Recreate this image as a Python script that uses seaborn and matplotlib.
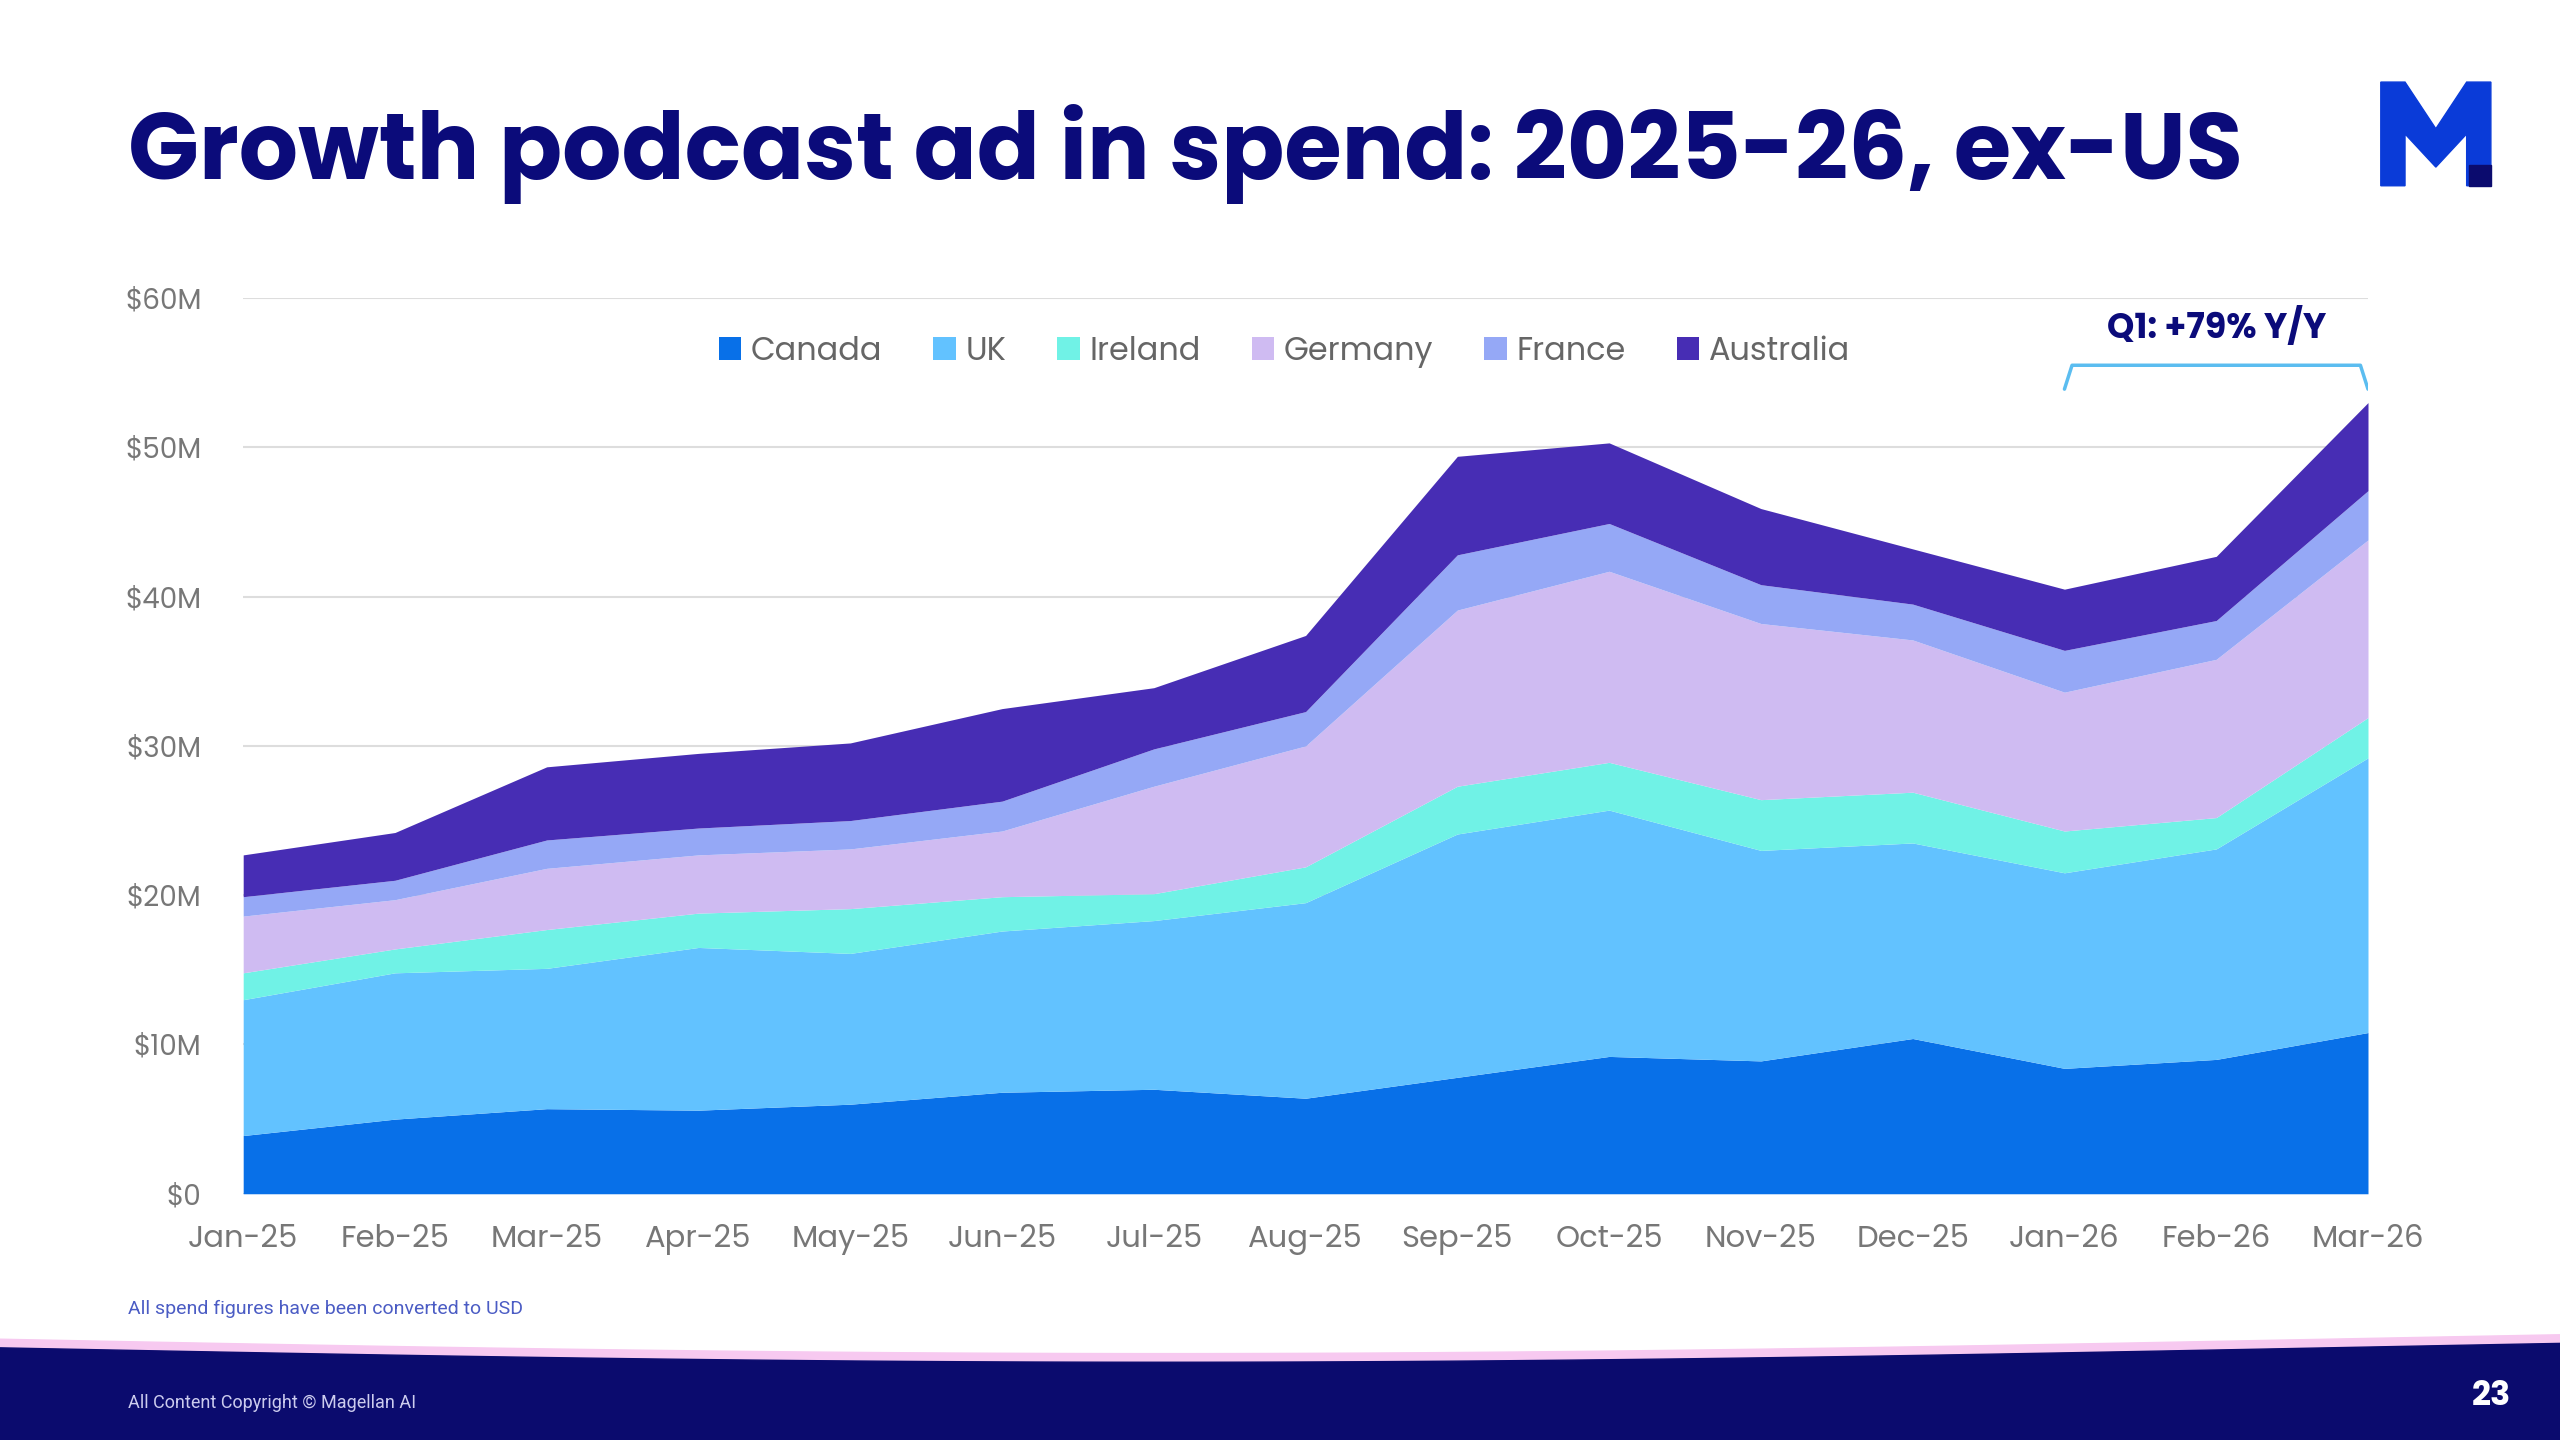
import numpy as np
import matplotlib
matplotlib.use("Agg")
import matplotlib.pyplot as plt
import seaborn as sns
from matplotlib.patches import Polygon, Rectangle

months = ["Jan-25","Feb-25","Mar-25","Apr-25","May-25","Jun-25","Jul-25","Aug-25",
          "Sep-25","Oct-25","Nov-25","Dec-25","Jan-26","Feb-26","Mar-26"]
canada = [3.9,5.0,5.7,5.6,6.0,6.8,7.0,6.4,7.8,9.2,8.9,10.4,8.4,9.0,10.8]
uk = [9.1,9.8,9.4,10.9,10.1,10.8,11.3,13.1,16.3,16.5,14.1,13.1,13.1,14.1,18.4]
ireland = [1.8,1.6,2.6,2.3,3.0,2.3,1.8,2.4,3.2,3.2,3.4,3.4,2.8,2.1,2.7]
germany = [3.8,3.3,4.1,3.9,4.0,4.4,7.2,8.1,11.8,12.8,11.8,10.2,9.3,10.6,11.9]
france = [1.3,1.3,1.9,1.8,1.9,2.0,2.5,2.3,3.7,3.2,2.6,2.4,2.8,2.6,3.3]
australia = [2.8,3.2,4.9,5.0,5.2,6.2,4.1,5.1,6.6,5.4,5.1,3.7,4.1,4.3,5.9]
series_names = ["Canada","UK","Ireland","Germany","France","Australia"]
colors = ["#0870E8","#62C2FF","#70F2E6","#CFBBF2","#95A8F6","#472DB4"]
yticks = [0,10,20,30,40,50,60]
ytick_labels = ["$0","$10M","$20M","$30M","$40M","$50M","$60M"]

sns.set_theme(style="white")
plt.rcParams['font.family'] = ['Poppins', 'Lato', 'DejaVu Sans']

fig = plt.figure(figsize=(25.6,14.4), dpi=100)
ax = fig.add_axes([0.095,0.171,0.83,0.622])
x = np.arange(len(months))
ax.stackplot(x, canada, uk, ireland, germany, france, australia,
             colors=colors, labels=series_names, linewidth=0)
ax.set_xlim(0, len(months)-1)
ax.set_ylim(0, 60)
ax.set_yticks(yticks)
ax.set_yticklabels(ytick_labels)
ax.set_xticks(x)
ax.set_xticklabels(months)
ax.tick_params(axis='x', labelsize=22, colors="#777777", length=0, pad=22)
ax.tick_params(axis='y', labelsize=20, colors="#777777", length=0, pad=30)
ax.yaxis.grid(True, color="#DDDDDD", linewidth=1.5)
ax.set_axisbelow(True)
for s in ax.spines.values():
    s.set_visible(False)
leg = ax.legend(loc='upper center', bbox_to_anchor=(0.49, 0.99), ncol=6, frameon=False,
                fontsize=23, handlelength=0.7, handleheight=0.7, handletextpad=0.3,
                columnspacing=1.6, labelcolor="#666666")

# Q1 bracket
yb = 55.5
ax.plot([12, 12.05, 13.95, 14], [yb-1.6, yb, yb, yb-1.6], color="#5BBDF0", lw=2.5,
        solid_capstyle='round')
ax.text(13, yb+1.2, "Q1: +79% Y/Y", ha='center', va='bottom', fontsize=25,
        fontweight='bold', color="#0B0B7A")

fig.text(0.05, 0.893, "Growth podcast ad in spend: 2025-26, ex-US", fontsize=67,
         fontweight='bold', color="#0B0B7A", va='center', ha='left')
fig.text(0.05, 0.091, "All spend figures have been converted to USD", fontsize=14,
         color="#4B5CC4", va='center', family=['Roboto', 'DejaVu Sans'])

# footer banner
fx = np.linspace(0, 1, 200)
top = 0.064 - 0.01*np.sin(np.pi*fx*1.1)
pink = np.column_stack([np.r_[fx, fx[::-1]], np.r_[top+0.006, top[::-1]-0.004]])
fig.patches.append(Polygon(pink, closed=True, transform=fig.transFigure, color="#F7C9F0", zorder=0))
navy = np.column_stack([np.r_[fx, 1, 0], np.r_[top, 0, 0]])
fig.patches.append(Polygon(navy, closed=True, transform=fig.transFigure, color="#0B0B6E", zorder=1))
fig.text(0.05, 0.026, "All Content Copyright © Magellan AI", fontsize=13, color="#CCCCEE",
         va='center', family=['Roboto', 'DejaVu Sans'])
fig.text(0.981, 0.03, "23", fontsize=24, color="white", fontweight='bold', va='center', ha='right')

# logo M
lx0, ly0, w, h = 0.930, 0.871, 0.043, 0.072
pts = [(0,0),(0,1),(0.22,1),(0.5,0.55),(0.78,1),(1,1),(1,0),(0.78,0),(0.78,0.5),(0.5,0.18),(0.22,0.5),(0.22,0)]
fig.patches.append(Polygon([(lx0+px*w, ly0+py*h) for px,py in pts], closed=True,
                           transform=fig.transFigure, color="#0A3BD8", zorder=2))
fig.patches.append(Rectangle((lx0+0.80*w, ly0), 0.2*w, 0.2*h, transform=fig.transFigure,
                             color="#0B0B6E", zorder=3))

fig.savefig("out.png", dpi=100, facecolor="white")
